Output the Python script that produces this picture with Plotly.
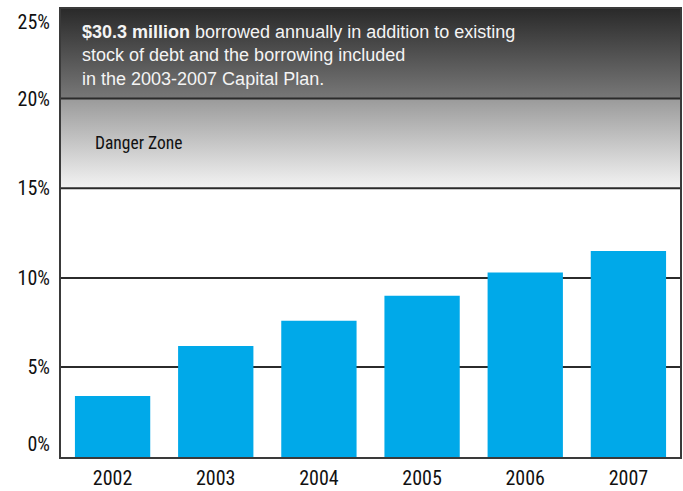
import plotly.graph_objects as go

# Debt service as share of revenue, by year
years = ["2002", "2003", "2004", "2005", "2006", "2007"]
debt_pct = [3.4, 6.2, 7.6, 9.0, 10.3, 11.5]

# Shaded zones on the value axis: (bottom, top) and (bottom colour, top colour)
zone_bounds = [(15, 20), (20, 25)]
zone_colors = [("#f3f3f3", "#9a9a9a"), ("#787878", "#2a2a2a")]

y_ticks = [0, 5, 10, 15, 20, 25]
y_ticktext = [f"{v}%" for v in y_ticks]
# keep the end labels inside the plot height: push the top one down, the bottom one up
y_ticktext[-1] = "<br>" + y_ticktext[-1]
y_ticktext[0] = y_ticktext[0] + "<br>&nbsp;"

BAR_COLOR = "#00a9e9"
LINE_COLOR = "#2b2b2b"
COND_FONT = "Roboto Condensed, DejaVu Sans Condensed, sans-serif"

xs = list(range(len(years)))
x_lo, x_hi = -0.5, len(years) - 0.5

fig = go.Figure()

# Gradient-filled zones spanning the full plot width
for (lo, hi), (c_lo, c_hi) in zip(zone_bounds, zone_colors):
    fig.add_trace(go.Scatter(
        x=[x_lo, x_hi, x_hi, x_lo, x_lo],
        y=[lo, lo, hi, hi, lo],
        mode="lines",
        line=dict(width=0),
        fill="toself",
        fillgradient=dict(type="vertical", start=lo, stop=hi,
                          colorscale=[[0, c_lo], [1, c_hi]]),
        hoverinfo="skip",
        showlegend=False,
    ))

fig.add_trace(go.Bar(
    x=xs, y=debt_pct,
    marker=dict(color=BAR_COLOR, line=dict(width=0)),
    showlegend=False,
))

# Zone boundary lines drawn over the gradients
for lo, hi in zone_bounds:
    fig.add_shape(type="line", xref="paper", x0=0, x1=1, yref="y", y0=lo, y1=lo,
                  line=dict(color=LINE_COLOR, width=2), layer="above")

fig.add_annotation(
    xref="paper", x=0.031, yref="y", y=22.4,
    xanchor="left", yanchor="middle", align="left", showarrow=False,
    text="<b>$30.3 million</b> borrowed annually in addition to existing<br>"
         "stock of debt and the borrowing included<br>"
         "in the 2003-2007 Capital Plan.",
    font=dict(family="Liberation Sans, Arial, sans-serif", size=18, color="#f4f4f4"),
)
fig.add_annotation(
    xref="paper", x=0.051, yref="y", y=17.55,
    xanchor="left", yanchor="middle", showarrow=False,
    text="Danger Zone",
    font=dict(family=COND_FONT, size=17.5, color="#111111"),
)

fig.update_layout(
    width=683, height=491,
    margin=dict(l=61, r=3, t=9, b=34),
    paper_bgcolor="white", plot_bgcolor="white",
    bargap=0.27,
    xaxis=dict(
        range=[x_lo, x_hi], tickmode="array", tickvals=xs, ticktext=years,
        showgrid=False, zeroline=False, ticks="", automargin=False,
        showline=True, mirror=True, linecolor="#3a3a3a", linewidth=2,
        ticklabelstandoff=2,
        tickfont=dict(family=COND_FONT, size=20, color="#111111"),
    ),
    yaxis=dict(
        range=[0, 25], tickmode="array", tickvals=y_ticks, ticktext=y_ticktext,
        showgrid=True, gridcolor=LINE_COLOR, gridwidth=2, zeroline=False, ticks="",
        showline=True, mirror=True, linecolor="#3a3a3a", linewidth=2, automargin=False,
        ticklabelstandoff=5, ticklabeloverflow="allow",
        tickfont=dict(family=COND_FONT, size=20, color="#111111"),
    ),
)

fig.write_html("out.html")
